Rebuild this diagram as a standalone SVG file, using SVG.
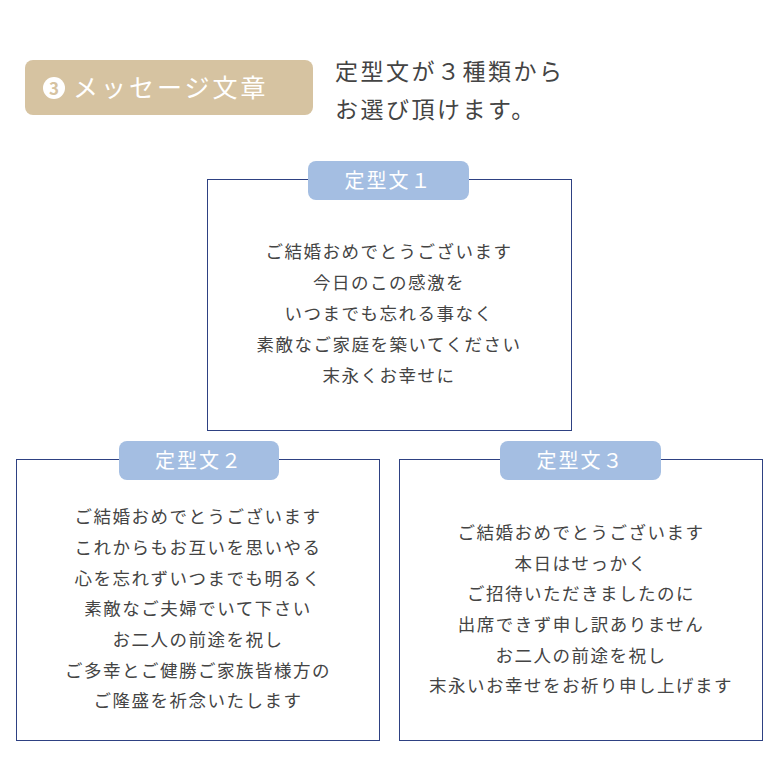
<svg xmlns="http://www.w3.org/2000/svg" width="780" height="780" viewBox="0 0 780 780">
<style>
text{font-family:"Noto Sans CJK JP","Noto Sans",sans-serif;}
.b{fill:#fff;stroke:#2e4182;stroke-width:1}
.l{fill:#a4bee2}
.lt{fill:#fff;font-size:20px;letter-spacing:2px;text-anchor:middle}
.t{fill:#444;font-size:17.5px;letter-spacing:1.5px;text-anchor:middle}
.h{fill:#444;font-size:23px;letter-spacing:2.5px}
</style>
<rect width="780" height="780" fill="#fff"/>
<g id="header">
<rect x="25" y="60" width="288" height="55" rx="8" fill="#d6c3a1"/>
<circle cx="54" cy="88" r="11" fill="#fff"/>
<text x="54" y="95" font-size="17" font-weight="bold" fill="#d6c3a1" text-anchor="middle">3</text>
<text x="73" y="97" font-size="25" fill="#fff" letter-spacing="3">メッセージ文章</text>
<text class="h" x="335" y="80">定型文が３種類から</text>
<text class="h" x="335" y="118">お選び頂けます。</text>
</g>
<g id="box1">
<rect class="b" x="207.5" y="179.5" width="364" height="251"/>
<rect class="l" x="308" y="161" width="161" height="39" rx="8"/>
<text class="lt" x="388.5" y="188">定型文１</text>
<text class="t" x="389" y="258">ご結婚おめでとうございます</text>
<text class="t" x="389" y="289">今日のこの感激を</text>
<text class="t" x="389" y="320">いつまでも忘れる事なく</text>
<text class="t" x="389" y="351">素敵なご家庭を築いてください</text>
<text class="t" x="389" y="382">末永くお幸せに</text>
</g>
<g id="box2">
<rect class="b" x="16.5" y="459.5" width="363" height="281"/>
<rect class="l" x="119" y="441" width="160" height="39" rx="8"/>
<text class="lt" x="199" y="468">定型文２</text>
<text class="t" x="198" y="523">ご結婚おめでとうございます</text>
<text class="t" x="198" y="554">これからもお互いを思いやる</text>
<text class="t" x="198" y="585">心を忘れずいつまでも明るく</text>
<text class="t" x="198" y="615">素敵なご夫婦でいて下さい</text>
<text class="t" x="198" y="646">お二人の前途を祝し</text>
<text class="t" x="198" y="677">ご多幸とご健勝ご家族皆様方の</text>
<text class="t" x="198" y="707">ご隆盛を祈念いたします</text>
</g>
<g id="box3">
<rect class="b" x="399.5" y="459.5" width="363" height="281"/>
<rect class="l" x="500" y="441" width="161" height="39" rx="8"/>
<text class="lt" x="580.5" y="468">定型文３</text>
<text class="t" x="581" y="539">ご結婚おめでとうございます</text>
<text class="t" x="581" y="570">本日はせっかく</text>
<text class="t" x="581" y="600">ご招待いただきましたのに</text>
<text class="t" x="581" y="631">出席できず申し訳ありません</text>
<text class="t" x="581" y="662">お二人の前途を祝し</text>
<text class="t" x="581" y="692">末永いお幸せをお祈り申し上げます</text>
</g>
<g id="connectors"/>
</svg>
